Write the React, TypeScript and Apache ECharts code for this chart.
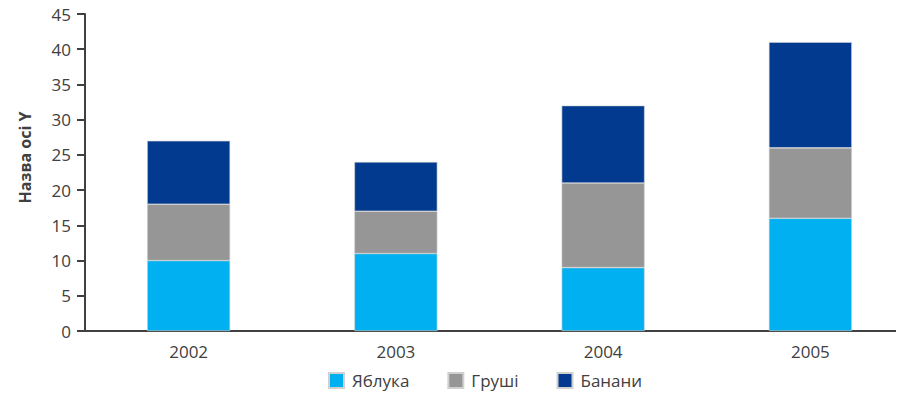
import React, { useEffect, useRef } from "react";
import * as echarts from "echarts";

const categories = ["2002", "2003", "2004", "2005"];
const apples = [10, 11, 9, 16];
const pears = [8, 6, 12, 10];
const bananas = [9, 7, 11, 15];
const seriesNames = ["Яблука", "Груші", "Банани"];
const colors = ["#00b0f0", "#969696", "#013a8e"];

export default function App() {
  const ref = useRef<HTMLDivElement>(null);
  useEffect(() => {
    if (!ref.current) return;
    const chart = echarts.init(ref.current, null, { renderer: "svg" });
    const font = "'Open Sans', 'Noto Sans', sans-serif";
    const data = [apples, pears, bananas];
    chart.setOption({
      animation: false,
      textStyle: { fontFamily: font },
      grid: { left: 85, right: 0, top: 14, bottom: 69, containLabel: false },
      legend: {
        top: 372,
        left: 328,
        padding: 0,
        itemWidth: 15,
        itemHeight: 15,
        itemGap: 38,
        icon: "rect",
        textStyle: { fontSize: 17, color: "#404040", fontFamily: font, padding: [0, 0, 0, 3] },
        data: seriesNames,
      },
      xAxis: {
        type: "category",
        data: categories,
        axisLine: { lineStyle: { color: "#404040", width: 2 } },
        axisTick: { show: false },
        axisLabel: { fontSize: 17, color: "#404040", margin: 12, fontFamily: font },
      },
      yAxis: {
        type: "value",
        min: 0,
        max: 45,
        interval: 5,
        name: "Назва осі Y",
        nameLocation: "middle",
        nameGap: 52,
        nameTextStyle: {
          fontSize: 16,
          fontWeight: "bold",
          color: "#404040",
          fontFamily: font,
          padding: [0, 0, 0, 30],
        },
        axisLine: { show: true, lineStyle: { color: "#404040", width: 2 } },
        axisTick: { show: true, length: 8, lineStyle: { color: "#404040", width: 2 } },
        axisLabel: { fontSize: 17, color: "#404040", margin: 14, fontFamily: font },
        splitLine: { show: false },
      },
      series: seriesNames.map((n, i) => ({
        name: n,
        type: "bar",
        stack: "total",
        data: data[i],
        barWidth: 83,
        itemStyle: { color: colors[i], borderColor: "#d0d0d0", borderWidth: 0.6 },
      })),
      graphic: [
        {
          type: "line",
          shape: { x1: 1, y1: 0, x2: 1, y2: 400 },
          style: { stroke: "#a0a0a0", lineWidth: 2 },
        },
      ],
    });
    return () => chart.dispose();
  }, []);
  return (
    <div style={{ width: 904, height: 400, margin: -8, overflow: "hidden" }}>
      <div ref={ref} style={{ width: 914, height: 400 }} />
    </div>
  );
}
